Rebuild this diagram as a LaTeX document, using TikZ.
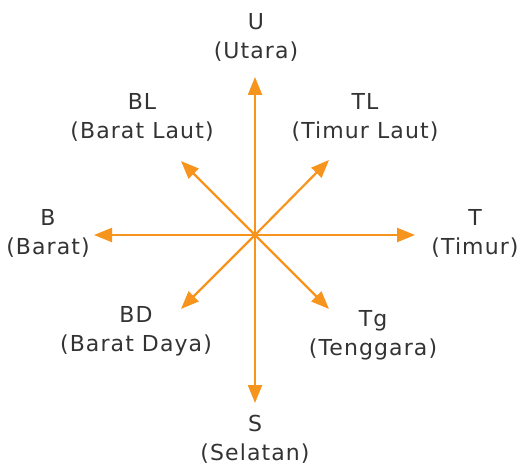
\documentclass[tikz,border=0pt]{standalone}
\usepackage{fontspec}
\setmainfont{DejaVu Sans}[LetterSpace=5]
\usepackage{xcolor}
\usetikzlibrary{arrows.meta, positioning}
\definecolor{arah}{HTML}{F7941D}
\definecolor{teks}{HTML}{333333}
\tikzset{
    x=1pt, y=-1pt, % one unit is one pixel of the figure, y goes down
    mata/.style={text=teks, align=center, inner sep=0pt, font=\fontsize{22}{29}\selectfont}, % the direction labels
}
\tikzstyle{arr} = [draw=arah, line width=2.2pt, -{Triangle[length=18pt, width=14pt]}]

\begin{document}
\begin{tikzpicture}
    \useasboundingbox (0,0) rectangle (519,465);
    \coordinate (o) at (255,235);

    % tips of the arrows
    \coordinate (pU) at (255,77);
    \coordinate (pTL) at (329,160);
    \coordinate (pT) at (415,235);
    \coordinate (pTg) at (329,309);
    \coordinate (pS) at (255,403);
    \coordinate (pBD) at (181,309);
    \coordinate (pB) at (94,235);
    \coordinate (pBL) at (181,161);

    \foreach \p in {pU,pTL,pT,pTg,pS,pBD,pB,pBL}
        \draw[arr] (o) -- (\p);

    % labels
    \node[mata] (u) at (256,37) {U\\(Utara)};
    \node[mata] (tl) at (365,117) {TL\\(Timur Laut)};
    \node[mata] (t) at (475,233) {T\\(Timur)};
    \node[mata] (tg) at (373,335) {Tg\\(Tenggara)};
    \node[mata] (s) at (255,439) {S\\(Selatan)};
    \node[mata] (bd) at (136,331) {BD\\(Barat Daya)};
    \node[mata] (b) at (48,233) {B\\(Barat)};
    \node[mata] (bl) at (142,117) {BL\\(Barat Laut)};
\end{tikzpicture}
\end{document}
